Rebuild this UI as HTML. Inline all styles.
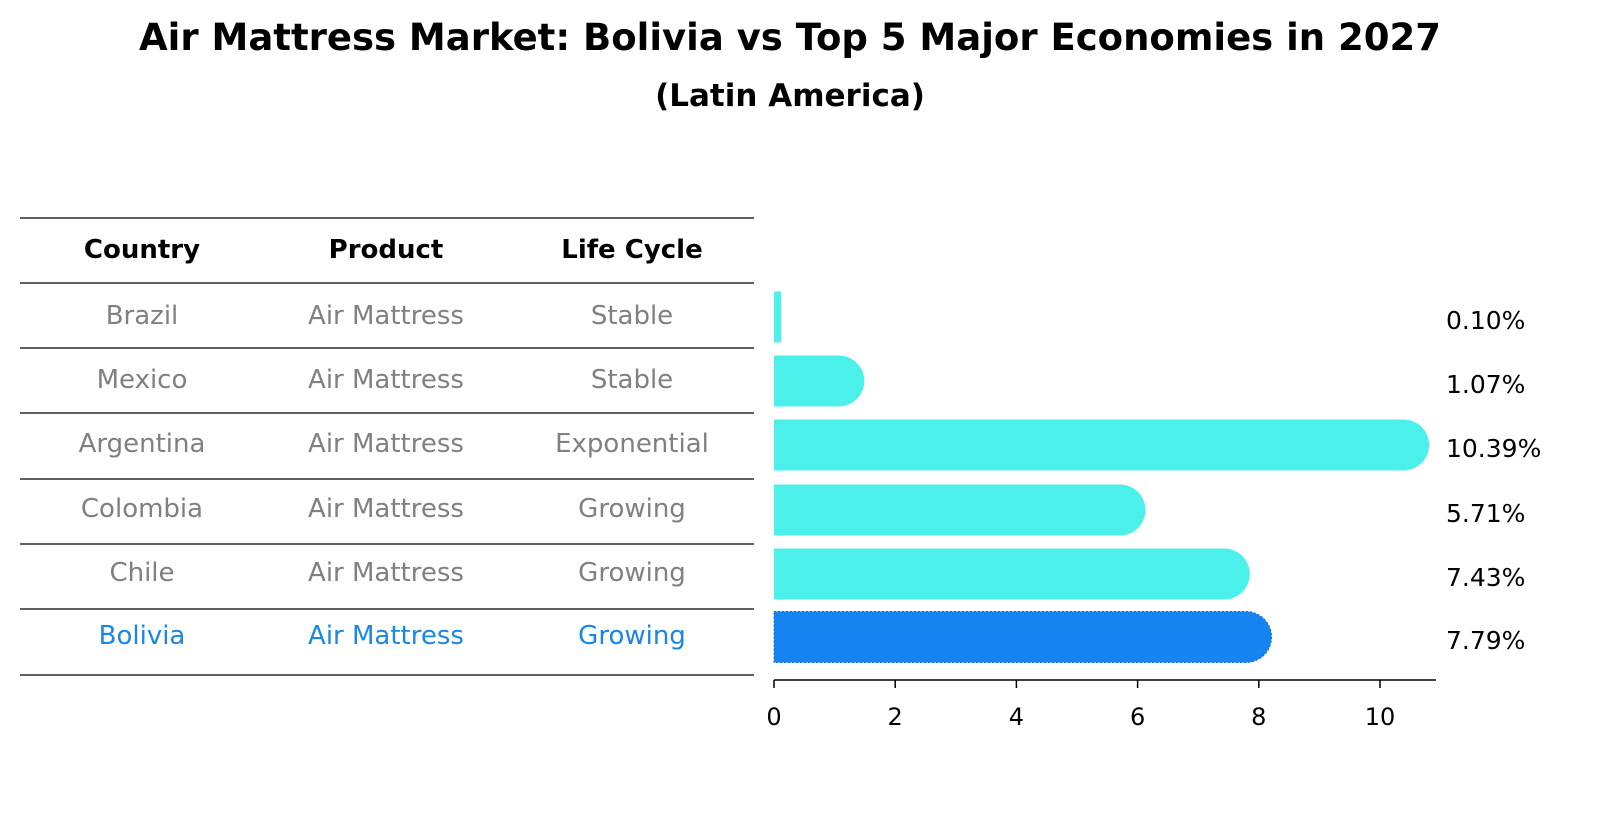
<!DOCTYPE html>
<html><head><meta charset="utf-8"><style>
body{margin:0;background:#fff;}
svg text{font-family:"DejaVu Sans","Liberation Sans",sans-serif;}
</style></head><body>
<svg width="1604" height="823" xmlns="http://www.w3.org/2000/svg">
<text x="790" y="50" text-anchor="middle" font-size="37" font-weight="bold">Air Mattress Market: Bolivia vs Top 5 Major Economies in 2027</text>
<text x="790" y="106" text-anchor="middle" font-size="31" font-weight="bold">(Latin America)</text>
<g id="table"></g>
<g id="bars"></g>
</svg>
<script>
const countries=["Brazil","Mexico","Argentina","Colombia","Chile","Bolivia"];
const products=["Air Mattress","Air Mattress","Air Mattress","Air Mattress","Air Mattress","Air Mattress"];
const lifeCycles=["Stable","Stable","Exponential","Growing","Growing","Growing"];
const values=[0.10,1.07,10.39,5.71,7.43,7.79];
const valueLabels=["0.10%","1.07%","10.39%","5.71%","7.43%","7.79%"];
const xTicks=[0,2,4,6,8,10];
const NS="http://www.w3.org/2000/svg";
function mk(tag,attrs,parent,text){const e=document.createElementNS(NS,tag);for(const k in attrs)e.setAttribute(k,attrs[k]);if(text!==undefined)e.textContent=text;parent.appendChild(e);return e;}
const table=document.getElementById('table'), bars=document.getElementById('bars');
const lineYs=[218,283,348,413,479,544,609,675];
const colX=[142,386,632];
lineYs.forEach((y,i)=>{const l=mk('line',{x1:20,x2:754,y1:y,y2:y,stroke:'#000','stroke-width':1.2},table);

});
["Country","Product","Life Cycle"].forEach((h,i)=>{const t=mk('text',{x:colX[i],y:258,'text-anchor':'middle','font-size':26,'font-weight':'bold'},table,h);

});
const x0=774, pxPer=60.6;
function xs(v){return x0+v*pxPer;}
const rowC=[317,381,445,510,574,637];
const barH=51;
countries.forEach((c,i)=>{
  const col=i===5?'#1a86e6':'#808080';
  [c,products[i],lifeCycles[i]].forEach((v,j)=>{const t=mk('text',{x:colX[j],y:rowC[i]+7,'text-anchor':'middle','font-size':26,fill:col},table,v);
  
  });
  const fill=i===5?'#1684f0':'#4cf0ea';
  const w=xs(values[i])-x0, r=barH/2;
  let el;
  if(values[i]<0.5){el=mk('rect',{x:x0,y:rowC[i]-r,width:w+1,height:barH,fill:fill},bars);}
  else{const y1=rowC[i]-r,y2=rowC[i]+r,xe=x0+w;
    el=mk('path',{d:`M${x0},${y1} H${xe} A${r},${r} 0 0 1 ${xe},${y2} H${x0} Z`,fill:fill},bars);
    if(i===5){el.setAttribute('stroke','#0f6fd0');el.setAttribute('stroke-dasharray','2,2');}}
  
  
  const t=mk('text',{x:1446,y:rowC[i]+12,'font-size':25},bars,valueLabels[i]);
  
  
});
const ax=mk('line',{x1:x0,x2:1436,y1:680,y2:680,stroke:'#000','stroke-width':1.5},bars);


xTicks.forEach(v=>{const l=mk('line',{x1:xs(v),x2:xs(v),y1:680,y2:688,stroke:'#000','stroke-width':1.5},bars);


const t=mk('text',{x:xs(v),y:725,'text-anchor':'middle','font-size':24},bars,String(v));

});
</script>
</body></html>
